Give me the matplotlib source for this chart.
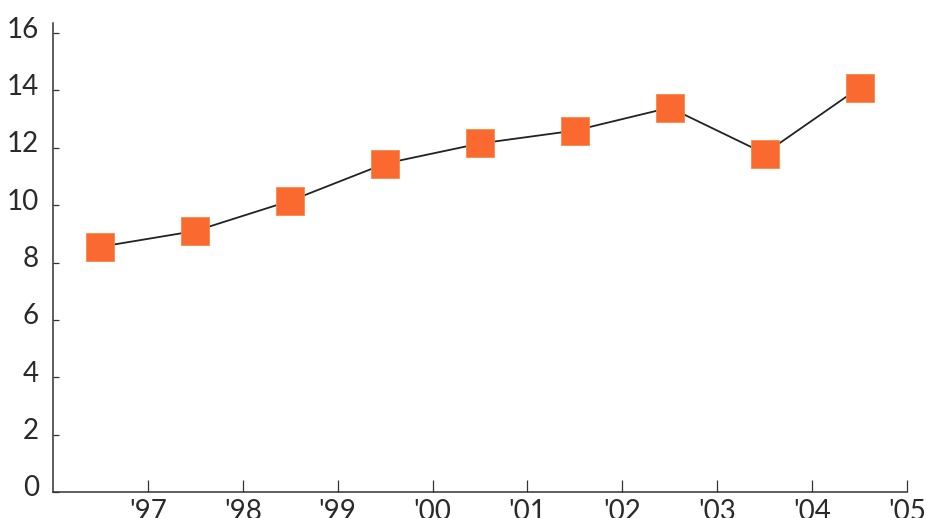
import matplotlib
matplotlib.use("Agg")
import matplotlib.pyplot as plt
import matplotlib.transforms as mtransforms

# data (values at mid-year)
years = [1996.5, 1997.5, 1998.5, 1999.5, 2000.5, 2001.5, 2002.5, 2003.5, 2004.5]
values = [8.55, 9.1, 10.15, 11.45, 12.15, 12.6, 13.4, 11.8, 14.1]

y_ticks = [0, 2, 4, 6, 8, 10, 12, 14, 16]
x_ticks = [1997, 1998, 1999, 2000, 2001, 2002, 2003, 2004, 2005]
x_labels = ["'97", "'98", "'99", "'00", "'01", "'02", "'03", "'04", "'05"]

plt.rcParams["font.family"] = ["Lato", "DejaVu Sans"]

fig = plt.figure(figsize=(9.26, 5.18), dpi=100)
ax = fig.add_axes([53 / 926, 26 / 518, (907 - 53) / 926, (492 - 23) / 518])

ax.plot(years, values, color="#222222", linewidth=1.3, zorder=2)
ax.plot(years, values, linestyle="none", marker="s", markersize=20.5,
        markerfacecolor="#FA6A30", markeredgecolor="#F98A45",
        markeredgewidth=0.6, zorder=3)

ax.set_xlim(1996, 2005)
ax.set_ylim(0, 16.35)

ax.spines["top"].set_visible(False)
ax.spines["right"].set_visible(False)
for side in ("left", "bottom"):
    ax.spines[side].set_color("#333333")
    ax.spines[side].set_linewidth(1.1)

ax.set_yticks(y_ticks)
ax.set_yticklabels([str(v) for v in y_ticks])
ax.set_xticks(x_ticks)
ax.set_xticklabels(x_labels)

ax.tick_params(axis="y", direction="in", length=4, width=0.9, color="#333333",
               labelsize=20, labelcolor="#2a2a2a", pad=10)
ax.tick_params(axis="x", direction="in", length=9, width=0.9, color="#333333",
               labelsize=20, labelcolor="#2a2a2a", pad=5)

# labels in the original sit a little above their tick marks
shift = mtransforms.ScaledTranslation(0, 6 / 100, fig.dpi_scale_trans)
for lab in ax.get_yticklabels():
    lab.set_transform(lab.get_transform() + shift)

fig.savefig("out.png", dpi=100, facecolor="white")
